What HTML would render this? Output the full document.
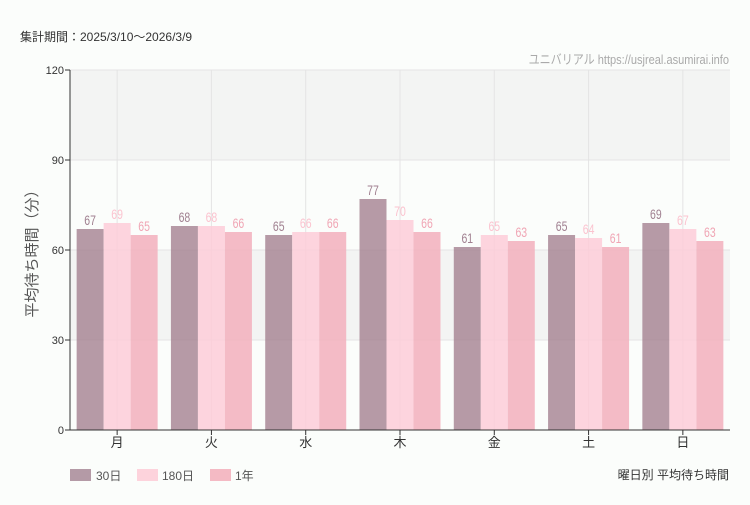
<!DOCTYPE html>
<html><head><meta charset="utf-8"><style>
body{margin:0;background:#fbfdfb;font-family:"Liberation Sans","Noto Sans CJK JP",sans-serif;}
svg text{font-family:"Liberation Sans","Noto Sans CJK JP",sans-serif;}
</style></head><body>
<svg id="c" width="750" height="500" xmlns="http://www.w3.org/2000/svg">
<rect width="750" height="500" fill="#fbfdfb"/>
<text x="20" y="41" font-size="12" fill="#333">集計期間：2025/3/10～2026/3/9</text>
<text transform="translate(729,64) scale(0.85,1)" font-size="13" fill="#aaa" text-anchor="end">ユニバリアル  https://usjreal.asumirai.info</text>
<text transform="translate(37,250) rotate(-90)" font-size="15" fill="#555" text-anchor="middle">平均待ち時間（分）</text>
<g id="plot"></g>
<g>
<rect x="70" y="469" width="21" height="12" fill="#b49aa6"/>
<text x="96" y="480" font-size="12" fill="#555">30日</text>
<rect x="137" y="469" width="21" height="12" fill="#fdd3dc"/>
<text x="162" y="480" font-size="12" fill="#555">180日</text>
<rect x="210" y="469" width="21" height="12" fill="#f4bac4"/>
<text x="235" y="480" font-size="12" fill="#555">1年</text>
</g>
<text x="729" y="479" font-size="12" fill="#333" text-anchor="end">曜日別 平均待ち時間</text>
</svg>
<script>
const categories=["月","火","水","木","金","土","日"];
const s30=[67,68,65,77,61,65,69];
const s180=[69,68,66,70,65,64,67];
const s1y=[65,66,66,66,63,61,63];
const yTicks=[0,30,60,90,120];
const NS="http://www.w3.org/2000/svg";
const L=70,R=730,T=70,B=430,YMAX=120;
const y=v=>B-(v/YMAX)*(B-T);
const bw=(R-L)/categories.length;
const cx=i=>L+bw*(i+0.5);
const g=document.getElementById('plot');
function mk(t,a){const e=document.createElementNS(NS,t);for(const k in a)e.setAttribute(k,a[k]);g.appendChild(e);return e;}
for(let i=0;i<yTicks.length-1;i++){
 if(i%2===1){const r=mk('rect',{x:L,y:y(yTicks[i+1]),width:R-L,height:y(yTicks[i])-y(yTicks[i+1]),fill:'#f3f4f3'});
 
 }
}
yTicks.forEach(v=>{
 const l=mk('line',{x1:L,x2:R,y1:y(v),y2:y(v),stroke:'#e4e4e4'});
 
 
 const tk=mk('line',{x1:L-5,x2:L,y1:y(v),y2:y(v),stroke:'#333'});
 
 
 const t=mk('text',{x:L-6,y:y(v)+4,'font-size':11,fill:'#333','text-anchor':'end'});t.textContent=v;
 
 
});
categories.forEach((c,i)=>{
 const l=mk('line',{x1:cx(i),x2:cx(i),y1:T,y2:B,stroke:'#e4e4e4'});
 
 
});
const series=[[s30,'rgba(166,132,147,0.82)','#a08090','30d'],[s180,'rgba(253,205,216,0.85)','#fbc3cf','180d'],[s1y,'rgba(242,178,190,0.88)','#f0a5b4','1y']];
const w=27;
categories.forEach((c,i)=>{
 series.forEach((s,j)=>{
  const x0=cx(i)-40.5+j*w;const v=s[0][i];
  const r=mk('rect',{x:x0,y:y(v),width:w,height:B-y(v),fill:s[1]});
  
  
  const t=mk('text',{transform:'translate('+(x0+w/2)+','+(y(v)-4)+') scale(0.75,1)','font-size':14,fill:s[2],'text-anchor':'middle'});t.textContent=v;
  
  
 });
 const tk=mk('line',{x1:cx(i),x2:cx(i),y1:B,y2:B+5,stroke:'#333'});
 
 
 const t=mk('text',{x:cx(i),y:B+17,'font-size':13,fill:'#333','text-anchor':'middle'});t.textContent=c;
 
 
});
const ax=mk('line',{x1:L,x2:L,y1:T,y2:B,stroke:'#333'});


const bx=mk('line',{x1:L,x2:R,y1:B,y2:B,stroke:'#333'});


</script>
</body></html>
